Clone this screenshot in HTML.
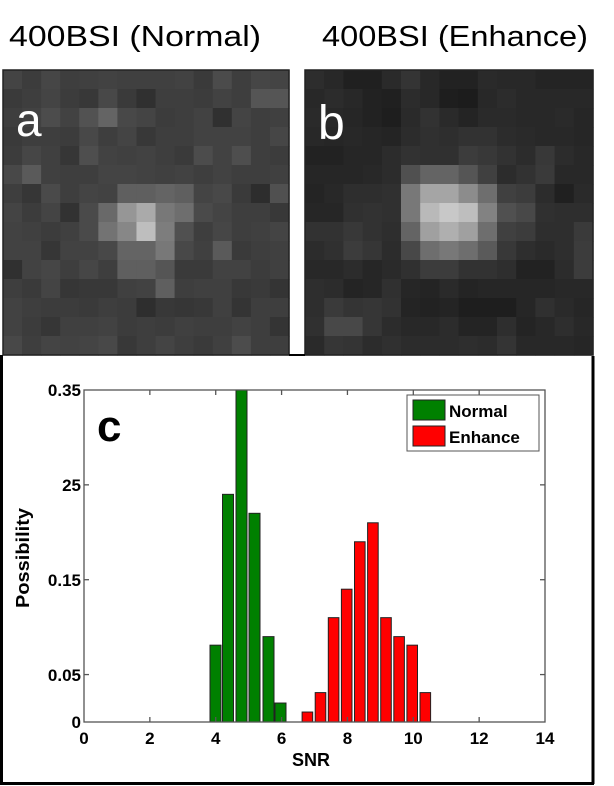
<!DOCTYPE html>
<html><head><meta charset="utf-8"><style>
html,body{margin:0;padding:0;background:#fff;width:614px;height:786px;overflow:hidden}
svg{display:block}
text{font-family:"Liberation Sans",Arial,sans-serif}
</style></head><body>
<svg id="s" width="614" height="786" xmlns="http://www.w3.org/2000/svg">
<rect width="614" height="786" fill="#fff"/>
<text x="9" y="46" font-size="29" textLength="252" lengthAdjust="spacingAndGlyphs">400BSI (Normal)</text>
<text x="322" y="46" font-size="29" textLength="266" lengthAdjust="spacingAndGlyphs">400BSI (Enhance)</text>
<g id="ia"></g><g id="ib"></g>
<rect x="3" y="70" width="286" height="285" fill="none" stroke="#222" stroke-width="1.5"/>
<rect x="305" y="70" width="288" height="285" fill="none" stroke="#222" stroke-width="1.5"/>
<line x1="289" y1="355" x2="305" y2="355" stroke="#000" stroke-width="2"/>
<text x="16" y="136" font-size="46" fill="#fff">a</text>
<text x="318" y="139" font-size="48" fill="#fff">b</text>
<line x1="1.5" y1="355" x2="1.5" y2="784" stroke="#000" stroke-width="3"/>
<line x1="593" y1="356" x2="593" y2="784" stroke="#000" stroke-width="3"/>
<line x1="0" y1="783.5" x2="594" y2="783.5" stroke="#000" stroke-width="3"/>
<g id="bars"></g>
<rect x="84" y="390" width="461" height="332" fill="none" stroke="#555" stroke-width="1.3"/>
<g id="ticks" stroke="#555" stroke-width="1.3"></g>
<g font-weight="bold" font-size="17" text-anchor="end">
<text x="81" y="396">0.35</text>
<text x="81" y="491">25</text>
<text x="81" y="586">0.15</text>
<text x="81" y="681">0.05</text>
<text x="81" y="728">0</text>
</g>
<g id="xl" font-weight="bold" font-size="17" text-anchor="middle"></g>
<text x="311" y="766" font-weight="bold" font-size="18" text-anchor="middle">SNR</text>
<text transform="translate(29,558) rotate(-90)" font-weight="bold" font-size="18" text-anchor="middle" textLength="100" lengthAdjust="spacingAndGlyphs">Possibility</text>
<text x="97" y="441" font-weight="bold" font-size="44">c</text>
<rect x="407" y="395" width="132" height="56" fill="#fff" stroke="#555" stroke-width="1"/>
<rect x="413" y="400" width="32" height="20" fill="#008000" stroke="#222" stroke-width="1"/>
<rect x="413" y="426" width="32" height="20" fill="#ff0000" stroke="#222" stroke-width="1"/>
<text x="449" y="417" font-weight="bold" font-size="17">Normal</text>
<text x="449" y="443" font-weight="bold" font-size="17">Enhance</text>
</svg>
<script>
var NS="http://www.w3.org/2000/svg";
function el(p,t,a){var e=document.createElementNS(NS,t);for(var k in a)e.setAttribute(k,a[k]);p.appendChild(e);return e;}
var A=[[68,60,70,62,64,66,64,64,64,66,58,75,62,70,68],[58,62,68,60,56,72,58,48,62,62,60,66,62,85,85],[62,66,76,66,82,100,72,68,60,62,66,48,68,62,64],[58,62,62,60,72,62,68,56,62,62,66,66,66,62,70],[60,70,64,54,78,66,64,66,62,58,76,66,78,62,60],[72,90,64,62,62,68,68,66,64,66,62,66,62,62,64],[62,54,74,62,68,66,95,95,100,95,68,72,58,45,80],[68,60,68,50,74,105,150,170,120,110,74,68,62,62,56],[66,64,60,64,74,115,135,190,125,80,62,70,62,64,68],[66,66,54,66,66,72,100,100,120,72,64,90,58,62,64],[48,66,70,62,70,62,95,95,85,58,58,66,66,60,64],[62,58,68,54,56,56,64,66,95,62,64,64,56,58,52],[66,62,60,60,58,62,60,46,56,54,56,64,52,62,62],[66,60,54,64,64,66,60,62,60,64,62,62,66,62,52],[72,62,68,66,68,72,56,62,68,62,58,64,76,62,62]];
var B=[[45,40,32,32,42,52,40,34,34,42,40,40,36,36,36],[40,44,40,34,32,44,40,30,28,40,44,40,40,40,40],[42,40,38,34,30,42,50,42,36,42,42,40,40,42,38],[40,38,40,38,36,44,48,46,50,50,44,42,40,40,38],[34,34,38,38,44,50,48,48,60,56,50,44,56,44,40],[38,38,38,40,44,80,100,100,85,64,44,50,58,40,40],[36,40,46,46,48,120,165,165,140,110,64,60,44,32,42],[38,38,48,50,48,120,185,200,190,130,80,72,48,46,46],[50,50,56,50,46,100,160,175,160,110,64,60,46,46,58],[44,48,60,54,44,72,110,120,110,90,56,46,42,46,60],[40,40,44,38,42,48,60,60,50,50,46,34,34,44,60],[46,44,36,38,48,38,36,42,36,38,38,38,38,40,40],[46,58,52,54,50,36,34,36,30,30,30,38,48,42,38],[48,72,72,54,44,40,40,44,36,36,46,36,40,46,40],[42,54,52,44,48,44,44,44,46,44,52,40,40,40,38]];
function img(g,M,x0,y0,w,h){var cw=w/15,ch=h/15;for(var r=0;r<15;r++)for(var c=0;c<15;c++){var v=M[r][c];el(g,"rect",{x:(x0+c*cw).toFixed(2),y:(y0+r*ch).toFixed(2),width:(cw+0.6).toFixed(2),height:(ch+0.6).toFixed(2),fill:"rgb("+v+","+v+","+v+")"});}}
img(document.getElementById("ia"),A,3,70,286,285);
img(document.getElementById("ib"),B,305,70,288,285);
var bars=document.getElementById("bars");
var Y0=722,S=948.6;
var g=[[215.5,.081],[228,.24],[241.5,.35],[254.5,.22],[268.5,.09],[280.5,.02]];
g.forEach(function(b){el(bars,"rect",{x:b[0]-5.5,y:Y0-b[1]*S,width:11,height:b[1]*S,fill:"#008000",stroke:"#222","stroke-width":1});});
var rh=[.0105,.031,.11,.14,.19,.21,.11,.09,.081,.031];
rh.forEach(function(h,i){var c=307.4+i*13.1;el(bars,"rect",{x:c-5.3,y:Y0-h*S,width:10.6,height:h*S,fill:"#ff0000",stroke:"#222","stroke-width":1});});
var tk=document.getElementById("ticks"),xl=document.getElementById("xl");
for(var i=0;i<=7;i++){var x=84+i*2*32.93;
 if(i>0&&i<7){el(tk,"line",{x1:x,y1:722,x2:x,y2:717});el(tk,"line",{x1:x,y1:390,x2:x,y2:395});}
 var t=el(xl,"text",{x:x,y:744});t.textContent=String(i*2);}
[0.05,0.15,0.25].forEach(function(v){var y=Y0-v*S;el(tk,"line",{x1:84,y1:y,x2:89,y2:y});el(tk,"line",{x1:545,y1:y,x2:540,y2:y});});
</script>
</body></html>
